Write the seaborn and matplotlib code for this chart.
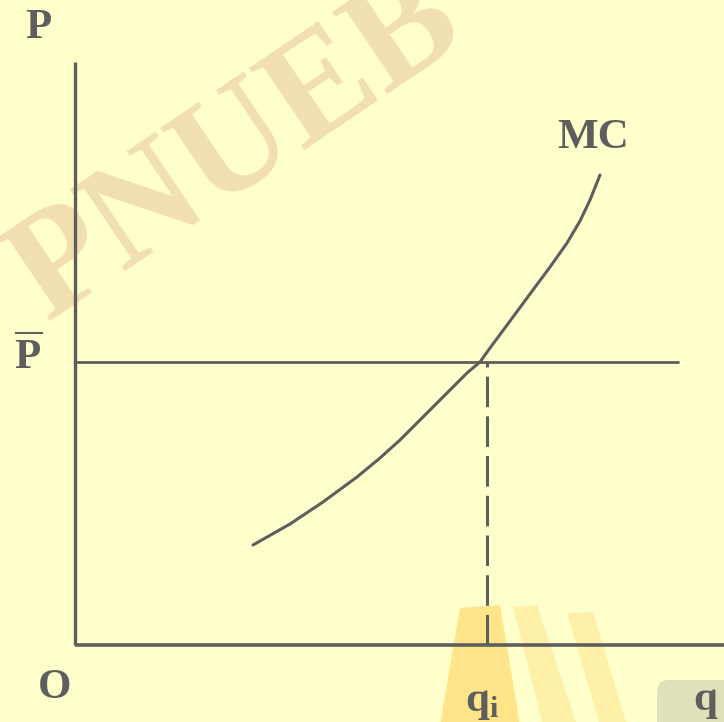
import numpy as np
import pandas as pd
import matplotlib
matplotlib.use('Agg')
import matplotlib.pyplot as plt
import seaborn as sns
from matplotlib.patches import Polygon, FancyBboxPatch

# Данные (единицы диаграммы: q по горизонтали, P по вертикали)
q_mc = [1.78, 2.15, 2.48, 2.82, 3.05, 3.25, 3.48, 3.72, 3.92, 4.05,
        4.15, 4.35, 4.55, 4.75, 4.92, 5.05, 5.15, 5.25]
p_mc = [1.00, 1.21, 1.43, 1.68, 1.87, 2.05, 2.28, 2.52, 2.72, 2.83,
        2.97, 3.24, 3.51, 3.78, 4.02, 4.24, 4.45, 4.70]
p_bar = 2.83
q_i = 4.12
p_axis_top = 5.83
q_axis_end = 6.6
p_line_end = 6.03

bg = '#ffffcc'
ink = '#5e5e5e'

sns.set_style('white')
plt.rcParams['font.family'] = ['Liberation Serif', 'DejaVu Serif']
plt.rcParams['mathtext.fontset'] = 'custom'
plt.rcParams['mathtext.rm'] = 'Liberation Serif'
plt.rcParams['mathtext.bf'] = 'Liberation Serif:bold'

fig = plt.figure(figsize=(7.24, 7.22), dpi=100, facecolor=bg)
ax = fig.add_axes([0, 0, 1, 1])
ax.set_facecolor(bg)

# водяной знак
ax.text(1.62, 4.95, 'PNUEB', fontsize=108, fontweight='bold', color='#f2dfb0',
        rotation=34, ha='center', va='center', zorder=0)
bands = [
    ([(3.85, 0.37), (4.25, 0.40), (4.45, -0.80), (3.65, -0.80)], '#ffe48a'),
    ([(4.38, 0.38), (4.62, 0.40), (5.02, -0.80), (4.68, -0.80)], '#fff0a8'),
    ([(4.92, 0.32), (5.18, 0.33), (5.52, -0.80), (5.25, -0.80)], '#fff0a8'),
]
for pts, col in bands:
    ax.add_patch(Polygon(pts, closed=True, color=col, lw=0, zorder=0))
ax.add_patch(FancyBboxPatch((5.82, -0.90), 0.9, 0.55,
                            boxstyle='round,pad=0,rounding_size=0.12',
                            color='#e0e0bb', lw=0, zorder=0))

# оси
ax.plot([0, 0], [0, p_axis_top], color=ink, lw=2.4, solid_capstyle='butt')
ax.plot([0, q_axis_end], [0, 0], color=ink, lw=2.6, solid_capstyle='butt')

# линия цены P̄
ax.plot([0, p_line_end], [p_bar, p_bar], color=ink, lw=2.0)
# пунктир до q_i
ax.plot([q_i, q_i], [0, p_bar], color=ink, lw=2.2, ls=(0, (10, 3)))

# кривая MC
mc = pd.DataFrame({'q': q_mc, 'P': p_mc})
sns.lineplot(data=mc, x='q', y='P', ax=ax, color=ink, lw=2.2, sort=False)

ax.set_xlim(-0.75, 6.49)
ax.set_ylim(-0.77, 6.45)
ax.set_xlabel('')
ax.set_ylabel('')
ax.axis('off')

fs = 31
ax.text(-0.37, 6.17, 'P', fontsize=fs, fontweight='bold', color=ink, ha='center', va='center')
ax.text(5.18, 5.07, 'MC', fontsize=fs, fontweight='bold', color=ink, ha='center', va='center')
ax.text(-0.47, 2.88, r'$\overline{\mathbf{P}}$', fontsize=fs, color=ink, ha='center', va='center')
ax.text(-0.20, -0.43, 'O', fontsize=fs, fontweight='bold', color=ink, ha='center', va='center')
ax.text(4.07, -0.58, r'q$_{\mathbf{i}}$', fontsize=fs, fontweight='bold', color=ink, ha='center', va='center')
ax.text(6.30, -0.55, 'q', fontsize=fs, fontweight='bold', color=ink, ha='center', va='center')

fig.savefig('out.png', dpi=100, facecolor=bg)
